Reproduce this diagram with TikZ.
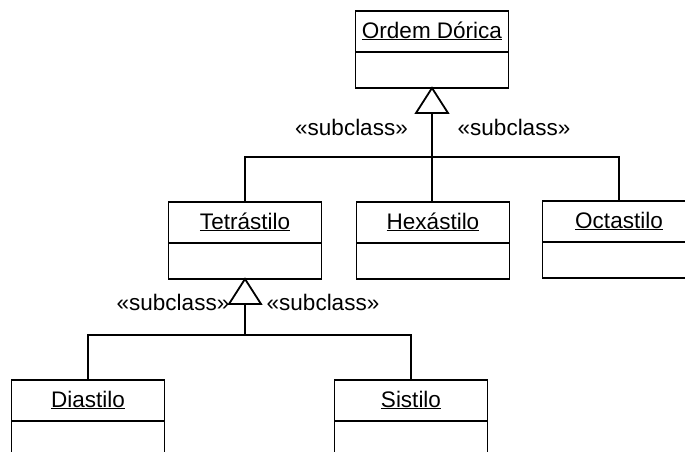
\documentclass[tikz,border=0pt]{standalone}
\usepackage{fontspec}
\setmainfont{Liberation Sans}
\begin{document}
\begin{tikzpicture}[x=1pt,y=-1pt,
  every node/.style={font=\fontsize{22.5}{27}\selectfont},
  classname/.style={draw, line width=1.8pt, minimum width=153pt, minimum height=41pt,
    inner sep=0pt, outer sep=0pt, anchor=north, text height=16.5pt, text depth=3.5pt},
  classbody/.style={draw, line width=1.8pt, minimum width=153pt, minimum height=36pt,
    inner sep=0pt, outer sep=0pt, anchor=north},
  link/.style={line width=1.2pt},
  gen/.style={draw, line width=1.8pt, fill=white, line join=miter},
  stereo/.style={inner sep=0pt, anchor=base}
]
\clip (0,0) rectangle (685,452);
\fill[white] (0,0) rectangle (685,452);

% classes: name compartment + empty body compartment
\node[classname] (ord) at (432,11) {\underline{Ordem Dórica}};
\node[classbody] (ordB) at (ord.south) {};

\node[classname] (tet) at (245,202) {\underline{Tetrástilo}};
\node[classbody] (tetB) at (tet.south) {};

\node[classname] (hex) at (433,202) {\underline{Hexástilo}};
\node[classbody] (hexB) at (hex.south) {};

\node[classname] (oct) at (619,201) {\underline{Octastilo}};
\node[classbody] (octB) at (oct.south) {};

\node[classname] (dia) at (88,380) {\underline{Diastilo}};
\node[classbody] (diaB) at (dia.south) {};

\node[classname] (sis) at (411,380) {\underline{Sistilo}};
\node[classbody] (sisB) at (sis.south) {};

% bus levels
\coordinate (busTop) at (0,157);
\coordinate (busLow) at (0,335);

% generalization: Ordem Dórica
\path (ordB.south) ++(0,25) coordinate (ordTri);
\draw[link] (ordTri) -- (ordTri |- hex.north);
\draw[link] (tet.north) -- (tet.north |- busTop) -- (oct.north |- busTop) -- (oct.north);
\draw[gen] (ordB.south) -- ++(16,25) -- ++(-32,0) -- cycle;

% generalization: Tetrástilo
\path (tetB.south) ++(0,25) coordinate (tetTri);
\draw[link] (tetTri) -- (tetTri |- busLow);
\draw[link] (dia.north) -- (dia.north |- busLow) -- (sis.north |- busLow) -- (sis.north);
\draw[gen] (tetB.south) -- ++(16,25) -- ++(-32,0) -- cycle;

% stereotypes
\node[stereo] (s1) at (351.5,135) {«subclass»};
\node[stereo] (s2) at (514,135) {«subclass»};
\node[stereo] (s3) at (173,310) {«subclass»};
\node[stereo] (s4) at (323,310) {«subclass»};
\end{tikzpicture}
\end{document}
